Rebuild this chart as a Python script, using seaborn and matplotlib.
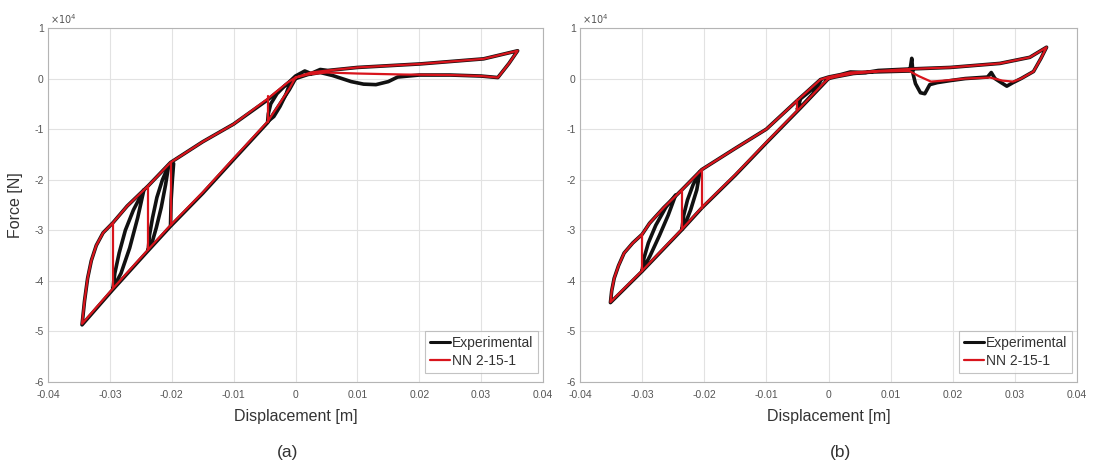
import numpy as np
import pandas as pd
import matplotlib
matplotlib.use("Agg")
import matplotlib.pyplot as plt
import seaborn as sns

# ---------------- data (displacement in m, force in 1e4 N) ----------------
# Panel (a) - NN 2-15-1 main loop
A_NN_LOOP_X = [0.000, -0.001, -0.0045, -0.010, -0.015, -0.0202, -0.0238, -0.0295, -0.0345,
               -0.0341, -0.0336, -0.0330, -0.0322, -0.0311, -0.0295, -0.0272, -0.0238, -0.0202,
               -0.015, -0.010, -0.0045, -0.0013, 0.000, 0.0025, 0.0052, 0.010, 0.0202, 0.0304,
               0.0359, 0.0345, 0.0327, 0.030, 0.025, 0.0175, 0.010, 0.005, 0.002, 0.000]
A_NN_LOOP_Y = [0.02, -0.20, -0.85, -1.58, -2.25, -2.90, -3.38, -4.15, -4.85,
               -4.40, -3.95, -3.60, -3.30, -3.05, -2.85, -2.52, -2.12, -1.66,
               -1.25, -0.90, -0.40, -0.08, 0.02, 0.12, 0.16, 0.22, 0.29, 0.39,
               0.55, 0.30, 0.02, 0.05, 0.07, 0.08, 0.10, 0.12, 0.08, 0.02]
A_NN_DROP_X = [-0.0045, -0.0202, -0.0238, -0.0295]
A_NN_DROP_TOP = [-0.35, -1.66, -2.12, -2.85]
A_NN_DROP_BOT = [-0.85, -2.90, -3.38, -4.15]

# Panel (a) - Experimental main loop
A_EXP_LOOP_X = [0.000, -0.001, -0.0045, -0.010, -0.015, -0.0202, -0.0238, -0.0295, -0.0345,
                -0.0341, -0.0336, -0.0330, -0.0322, -0.0311, -0.0295, -0.0272, -0.0238, -0.0202,
                -0.015, -0.010, -0.0045, -0.0013, 0.000, 0.0015, 0.0025, 0.004, 0.0052, 0.010,
                0.0202, 0.0304, 0.0359, 0.0345, 0.0327, 0.030, 0.025, 0.020, 0.0165, 0.015,
                0.013, 0.011, 0.009, 0.0075, 0.006, 0.004, 0.002, 0.000]
A_EXP_LOOP_Y = [0.00, -0.22, -0.87, -1.60, -2.27, -2.92, -3.40, -4.17, -4.87,
                -4.40, -3.95, -3.60, -3.30, -3.05, -2.85, -2.52, -2.12, -1.66,
                -1.25, -0.90, -0.42, -0.10, 0.05, 0.15, 0.10, 0.18, 0.16, 0.22,
                0.29, 0.39, 0.55, 0.30, 0.02, 0.05, 0.07, 0.07, 0.03, -0.06,
                -0.12, -0.11, -0.06, 0.00, 0.06, 0.12, 0.08, 0.00]
# Experimental inner cycles (lens-shaped)
A_EXP_C1_X = [-0.0045, -0.0044, -0.0040, -0.0030, -0.0018, -0.0008, -0.0015, -0.0025, -0.0035, -0.0045]
A_EXP_C1_Y = [-0.85, -0.70, -0.50, -0.30, -0.15, -0.05, -0.30, -0.55, -0.75, -0.85]
A_EXP_C2_X = [-0.0238, -0.0236, -0.0231, -0.0224, -0.0215, -0.0205, -0.0210, -0.0217, -0.0225, -0.0232, -0.0238]
A_EXP_C2_Y = [-3.38, -3.10, -2.75, -2.35, -2.00, -1.72, -2.10, -2.55, -2.95, -3.25, -3.38]
A_EXP_C3_X = [-0.0295, -0.0292, -0.0285, -0.0275, -0.0262, -0.0245, -0.0255, -0.0268, -0.0282, -0.0295]
A_EXP_C3_Y = [-4.15, -3.85, -3.45, -3.00, -2.60, -2.20, -2.75, -3.35, -3.85, -4.15]
A_EXP_C4_X = [-0.0202, -0.0201, -0.0199, -0.0197]
A_EXP_C4_Y = [-2.90, -2.40, -2.00, -1.68]

# Panel (b) - NN 2-15-1 main loop
B_NN_LOOP_X = [0.000, -0.001, -0.0045, -0.010, -0.015, -0.0204, -0.0236, -0.030, -0.0351,
               -0.0349, -0.0345, -0.0338, -0.0329, -0.0315, -0.030, -0.0288, -0.0265, -0.0236,
               -0.0204, -0.015, -0.010, -0.005, -0.0013, 0.000, 0.002, 0.0035, 0.008, 0.0131,
               0.0196, 0.0276, 0.0324, 0.0351, 0.0342, 0.0330, 0.0310, 0.0297, 0.0280, 0.0260,
               0.022, 0.0196, 0.0165, 0.0145, 0.0130, 0.008, 0.004, 0.001, 0.000]
B_NN_LOOP_Y = [0.00, -0.12, -0.57, -1.26, -1.90, -2.55, -2.98, -3.80, -4.42,
               -4.20, -3.95, -3.70, -3.45, -3.25, -3.08, -2.86, -2.55, -2.20,
               -1.80, -1.38, -1.00, -0.43, -0.02, 0.03, 0.08, 0.12, 0.15, 0.19,
               0.22, 0.30, 0.42, 0.62, 0.40, 0.14, 0.00, -0.06, -0.04, 0.02,
               0.00, -0.03, -0.06, 0.05, 0.15, 0.14, 0.10, 0.03, 0.00]
B_NN_DROP_X = [-0.005, -0.0204, -0.0236, -0.030]
B_NN_DROP_TOP = [-0.43, -1.80, -2.20, -3.08]
B_NN_DROP_BOT = [-0.62, -2.55, -2.98, -3.80]

# Panel (b) - Experimental main loop
B_EXP_LOOP_X = [0.000, -0.001, -0.0045, -0.010, -0.015, -0.0204, -0.0236, -0.030, -0.0351,
                -0.0349, -0.0345, -0.0338, -0.0329, -0.0315, -0.030, -0.0288, -0.0265, -0.0236,
                -0.0204, -0.015, -0.010, -0.005, -0.0013, 0.000, 0.002, 0.0035, 0.006, 0.008,
                0.0131, 0.0196, 0.0276, 0.0324, 0.0351, 0.0342, 0.0330, 0.031, 0.0297, 0.0287,
                0.0278, 0.0268, 0.0262, 0.0256, 0.022, 0.0196, 0.0175, 0.0163, 0.0155, 0.0148,
                0.0140, 0.0136, 0.0134, 0.0131, 0.010, 0.007, 0.004, 0.001, 0.000]
B_EXP_LOOP_Y = [0.00, -0.13, -0.58, -1.27, -1.91, -2.56, -2.99, -3.81, -4.43,
                -4.20, -3.95, -3.70, -3.45, -3.25, -3.08, -2.86, -2.55, -2.20,
                -1.80, -1.38, -1.00, -0.43, -0.02, 0.03, 0.08, 0.13, 0.12, 0.16,
                0.19, 0.22, 0.30, 0.42, 0.62, 0.40, 0.14, 0.00, -0.08, -0.15,
                -0.08, 0.00, 0.12, 0.03, 0.00, -0.04, -0.08, -0.12, -0.30, -0.28,
                -0.10, 0.10, 0.40, 0.15, 0.14, 0.13, 0.10, 0.03, 0.00]
B_EXP_C1_X = [-0.005, -0.0045, -0.0030, -0.0012, -0.0025, -0.0040, -0.005]
B_EXP_C1_Y = [-0.60, -0.40, -0.25, -0.03, -0.30, -0.50, -0.60]
B_EXP_C2_X = [-0.0236, -0.0233, -0.0227, -0.0218, -0.0207, -0.0212, -0.0222, -0.0230, -0.0236]
B_EXP_C2_Y = [-2.98, -2.70, -2.40, -2.10, -1.84, -2.20, -2.60, -2.85, -2.98]
B_EXP_C3_X = [-0.030, -0.0297, -0.0290, -0.0278, -0.0262, -0.0246, -0.0258, -0.0272, -0.0287, -0.030]
B_EXP_C3_Y = [-3.80, -3.55, -3.25, -2.90, -2.55, -2.30, -2.70, -3.10, -3.50, -3.80]

X_TICKS = [-0.04, -0.03, -0.02, -0.01, 0, 0.01, 0.02, 0.03, 0.04]
X_TICK_LABELS = ["-0.04", "-0.03", "-0.02", "-0.01", "0", "0.01", "0.02", "0.03", "0.04"]
Y_TICKS = [-6, -5, -4, -3, -2, -1, 0, 1]
Y_TICK_LABELS = ["-6", "-5", "-4", "-3", "-2", "-1", "0", "1"]
SERIES = ["Experimental", "NN 2-15-1"]
PANEL_LABELS = ["(a)", "(b)"]

# ---------------- styling ----------------
sns.set_theme(style="whitegrid")
plt.rcParams["font.family"] = ["Liberation Sans", "DejaVu Sans"]
BLACK = "#111111"
RED = "#d8141c"
GRID = "#e2e2e2"
SPINE = "#b4b4b4"
TICKC = "#555555"


def frame(segments):
    rows = []
    for k, (xs, ys) in enumerate(segments):
        for i, (xv, yv) in enumerate(zip(xs, ys)):
            rows.append({"seg": k, "i": i, "x": xv, "y": yv})
    return pd.DataFrame(rows)


def drops(xs, tops, bots):
    return [([xv, xv], [t, b]) for xv, t, b in zip(xs, tops, bots)]


fig = plt.figure(figsize=(10.93, 4.65), dpi=100)
ax_a = fig.add_axes([48 / 1093, 1 - 382 / 465, (543 - 48) / 1093, (382 - 28) / 465])
ax_b = fig.add_axes([580 / 1093, 1 - 382 / 465, (1077 - 580) / 1093, (382 - 28) / 465])

panels = [
    (ax_a,
     [(A_EXP_LOOP_X, A_EXP_LOOP_Y), (A_EXP_C1_X, A_EXP_C1_Y), (A_EXP_C2_X, A_EXP_C2_Y),
      (A_EXP_C3_X, A_EXP_C3_Y), (A_EXP_C4_X, A_EXP_C4_Y)],
     [(A_NN_LOOP_X, A_NN_LOOP_Y)] + drops(A_NN_DROP_X, A_NN_DROP_TOP, A_NN_DROP_BOT)),
    (ax_b,
     [(B_EXP_LOOP_X, B_EXP_LOOP_Y), (B_EXP_C1_X, B_EXP_C1_Y), (B_EXP_C2_X, B_EXP_C2_Y),
      (B_EXP_C3_X, B_EXP_C3_Y)],
     [(B_NN_LOOP_X, B_NN_LOOP_Y)] + drops(B_NN_DROP_X, B_NN_DROP_TOP, B_NN_DROP_BOT)),
]

for idx, (ax, exp_segs, nn_segs) in enumerate(panels):
    ax.set_facecolor("white")
    dfe = frame(exp_segs)
    dfn = frame(nn_segs)
    sns.lineplot(data=dfe, x="x", y="y", units="seg", estimator=None, sort=False,
                 color=BLACK, lw=2.6, ax=ax, legend=False, zorder=3)
    sns.lineplot(data=dfn, x="x", y="y", units="seg", estimator=None, sort=False,
                 color=RED, lw=1.6, ax=ax, legend=False, zorder=4)
    ax.set_xlim(-0.04, 0.04)
    ax.set_ylim(-6, 1)
    ax.set_xticks(X_TICKS)
    ax.set_xticklabels(X_TICK_LABELS)
    ax.set_yticks(Y_TICKS)
    ax.set_yticklabels(Y_TICK_LABELS)
    ax.grid(True, color=GRID, lw=0.8)
    for sp in ax.spines.values():
        sp.set_color(SPINE)
        sp.set_linewidth(0.8)
    ax.tick_params(axis="both", labelsize=7.5, colors=TICKC, direction="in", length=3,
                   width=0.6)
    ax.tick_params(axis="x", pad=6)
    ax.tick_params(axis="y", pad=3)
    ax.set_xlabel("Displacement [m]", fontsize=11.5, color="#333333", labelpad=6)
    if idx == 0:
        ax.set_ylabel("Force [N]", fontsize=11.5, color="#333333", labelpad=8)
    else:
        ax.set_ylabel("")
    ax.text(0.005, 1.005, r"$\times10^4$", transform=ax.transAxes, fontsize=7,
            color=TICKC, ha="left", va="bottom")
    handles = [plt.Line2D([], [], color=BLACK, lw=2.2),
               plt.Line2D([], [], color=RED, lw=1.6)]
    leg = ax.legend(handles, SERIES, loc="lower right", bbox_to_anchor=(0.99, 0.025),
                    fontsize=10, frameon=True, fancybox=False, handlelength=1.5,
                    handletextpad=0.1, borderpad=0.35, labelspacing=0.3, borderaxespad=0)
    leg.get_frame().set_edgecolor(SPINE)
    leg.get_frame().set_linewidth(0.8)
    for t in leg.get_texts():
        t.set_color("#333333")

fig.text(288 / 1093, 1 - 452 / 465, PANEL_LABELS[0], fontsize=12.5, color="#333333",
         ha="center", va="center")
fig.text(840 / 1093, 1 - 452 / 465, PANEL_LABELS[1], fontsize=12.5, color="#333333",
         ha="center", va="center")

fig.savefig("out.png", dpi=100)
